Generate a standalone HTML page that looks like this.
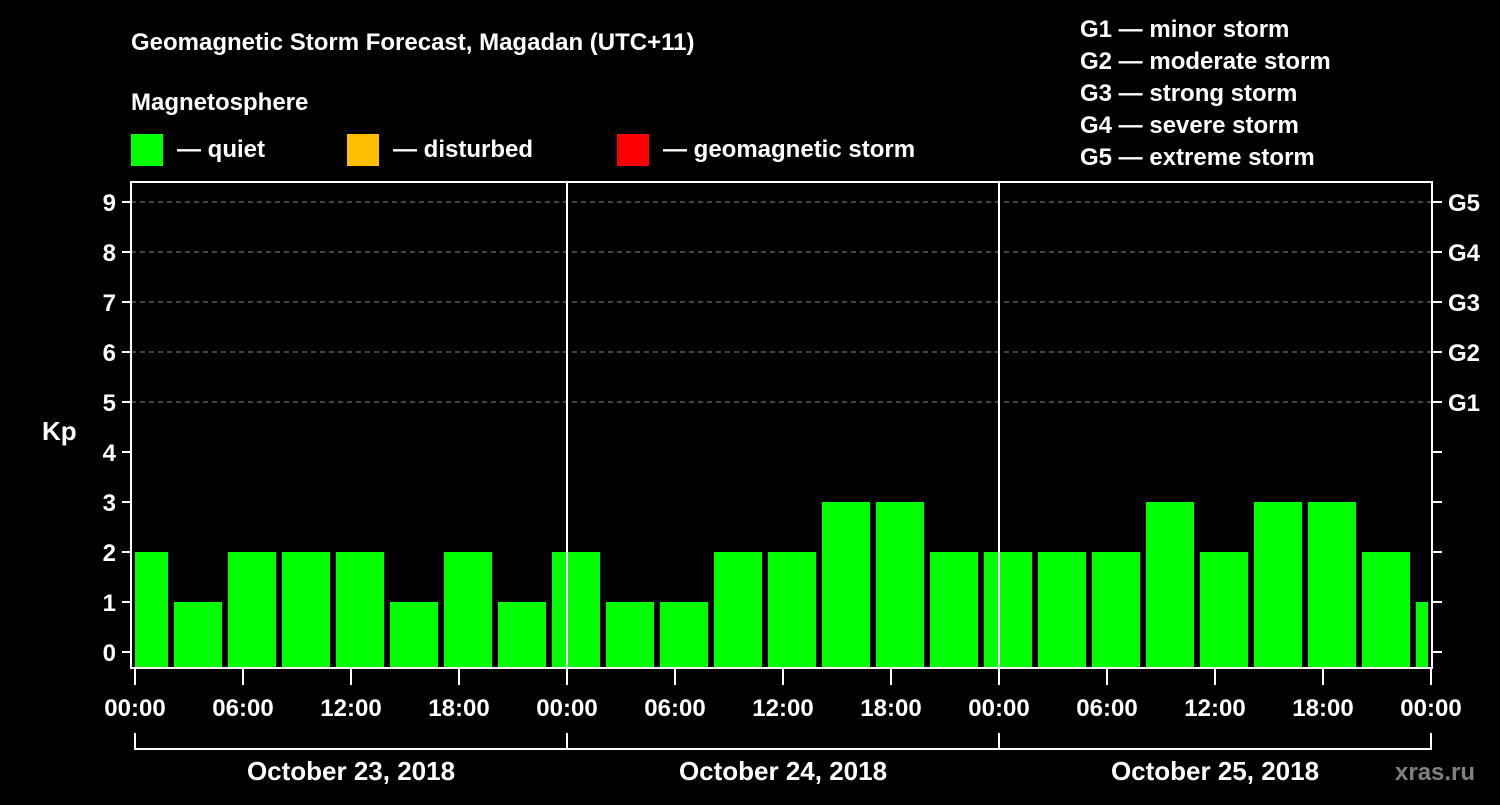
<!DOCTYPE html>
<html><head><meta charset="utf-8"><style>
body{margin:0;background:#000;width:1500px;height:800px;overflow:hidden}
svg text{font-family:"Liberation Sans",Arial,sans-serif;font-weight:bold;fill:#fff}
</style></head><body>
<svg id="c" width="1500" height="800">
<text x="131" y="50" font-size="24">Geomagnetic Storm Forecast, Magadan (UTC+11)</text>
<text x="131" y="110" font-size="24">Magnetosphere</text>
<g><rect x="131" y="134" width="32" height="32" fill="#00ff00"/><text x="177" y="157" font-size="24">— quiet</text></g>
<g><rect x="347" y="134" width="32" height="32" fill="#ffbf00"/><text x="393" y="157" font-size="24">— disturbed</text></g>
<g><rect x="617" y="134" width="32" height="32" fill="#ff0000"/><text x="663" y="157" font-size="24">— geomagnetic storm</text></g>
<g font-size="24">
<text x="1080" y="37">G1 — minor storm</text>
<text x="1080" y="69">G2 — moderate storm</text>
<text x="1080" y="101">G3 — strong storm</text>
<text x="1080" y="133">G4 — severe storm</text>
<text x="1080" y="165">G5 — extreme storm</text>
</g>
<text x="42" y="440" font-size="26">Kp</text>
<text x="1395" y="780" font-size="24" fill="#808080" style="fill:#808080">xras.ru</text>
<g id="grid"></g><g id="bars"></g><g id="axes"></g>
</svg>
<script>
const kpValues=[2,1,2,2,2,1,2,1,2,1,1,2,2,3,3,2,2,2,2,3,2,3,3,2,1];
const dayLabels=["October 23, 2018","October 24, 2018","October 25, 2018"];
const hourLabels=["00:00","06:00","12:00","18:00"];
const yTicks=[0,1,2,3,4,5,6,7,8,9];
const gLabels=["G1","G2","G3","G4","G5"];
const NS="http://www.w3.org/2000/svg";
const X0=135,PXH=18,L=131,R=1432,T=182,B=668;
const xs=h=>X0+h*PXH, ys=k=>652-50*k;
function mk(t,a,p){const e=document.createElementNS(NS,t);for(const k in a)e.setAttribute(k,a[k]);p.appendChild(e);return e;}
const grid=document.getElementById('grid'),bars=document.getElementById('bars'),axes=document.getElementById('axes');
for(let k=5;k<=9;k++){const l=mk('line',{x1:L,x2:R,y1:ys(k),y2:ys(k),stroke:'#888','stroke-dasharray':'5,4','stroke-width':1},grid);

}
kpValues.forEach((v,i)=>{let a=xs(-1+3*i)+3,b=xs(2+3*i)-3;a=Math.max(a,xs(0));b=Math.min(b,xs(72)-3);
const c=v>=5?'#ff0000':v>=4?'#ffbf00':'#00ff00';
const r=mk('rect',{x:a,y:ys(v),width:b-a,height:B-ys(v),fill:c},bars);

});
const f=mk('rect',{x:L,y:T,width:R-L,height:B-T,fill:'none',stroke:'#fff','stroke-width':2},axes);


for(let d=1;d<3;d++){const l=mk('line',{x1:xs(24*d),x2:xs(24*d),y1:T,y2:B,stroke:'#fff','stroke-width':2},axes);

}
yTicks.forEach(k=>{mk('line',{x1:122,x2:L,y1:ys(k),y2:ys(k),stroke:'#fff','stroke-width':2},axes);
mk('line',{x1:R,x2:1442,y1:ys(k),y2:ys(k),stroke:'#fff','stroke-width':2},axes);
const t=mk('text',{x:116,y:ys(k)+9,'font-size':24,'text-anchor':'end'},axes);t.textContent=k;

});
gLabels.forEach((g,i)=>{const t=mk('text',{x:1448,y:ys(5+i)+9,'font-size':24},axes);t.textContent=g;

});
for(let h=0;h<=72;h+=6){mk('line',{x1:xs(h),x2:xs(h),y1:B,y2:685,stroke:'#fff','stroke-width':2},axes);
const t=mk('text',{x:xs(h),y:716,'font-size':24,'text-anchor':'middle'},axes);t.textContent=hourLabels[(h/6)%4];

}
mk('line',{x1:xs(0),x2:xs(72),y1:749,y2:749,stroke:'#fff','stroke-width':2},axes);
for(let d=0;d<=3;d++)mk('line',{x1:xs(24*d),x2:xs(24*d),y1:733,y2:750,stroke:'#fff','stroke-width':2},axes);
dayLabels.forEach((s,d)=>{const t=mk('text',{x:xs(24*d+12),y:780,'font-size':26,'text-anchor':'middle'},axes);t.textContent=s;

});
</script>
</body></html>
